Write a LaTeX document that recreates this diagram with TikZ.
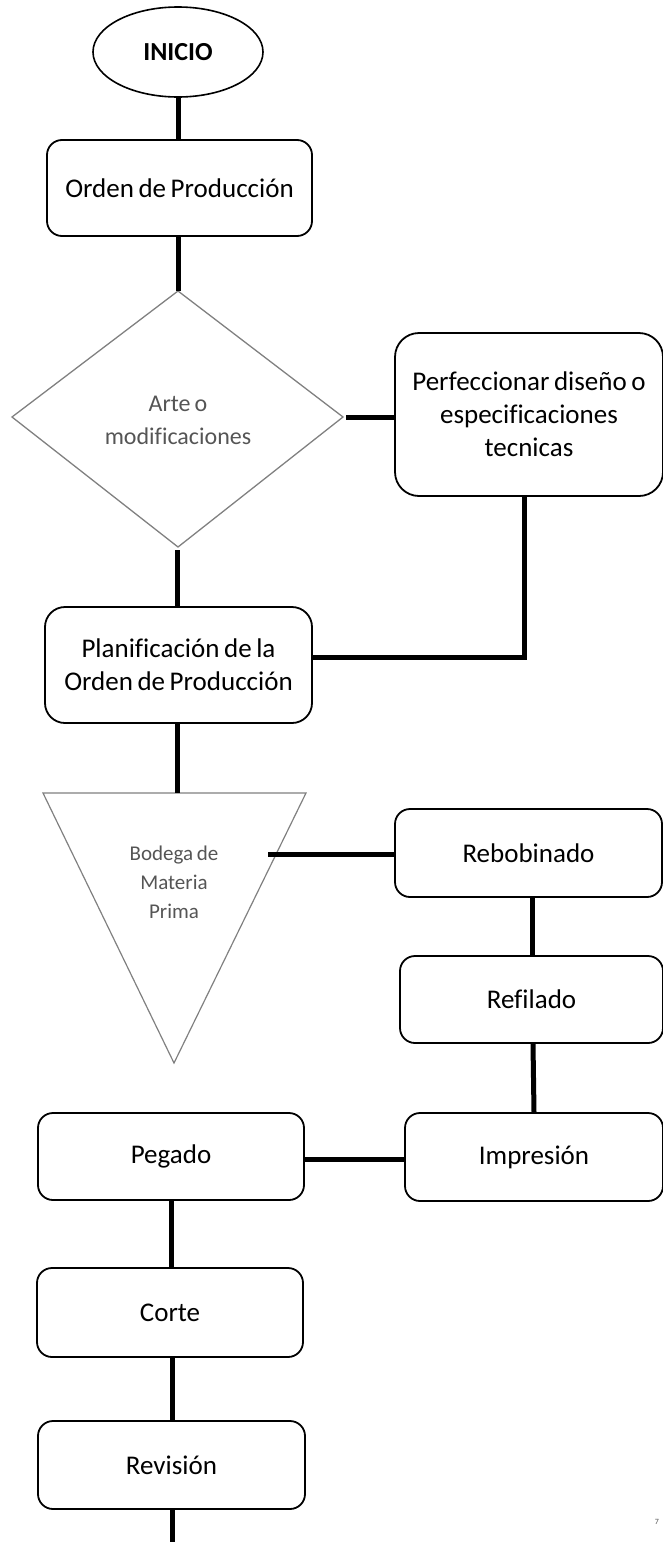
\documentclass[tikz,border=0pt]{standalone}
\usepackage{fontspec}
\setmainfont{Carlito}[Ligatures=NoCommon, WordSpace=0.75]
\usetikzlibrary{shapes.geometric}
\definecolor{shapegray}{HTML}{808080}
\definecolor{labelgray}{HTML}{555555}
\begin{document}
\begin{tikzpicture}[x=1pt,y=-1pt,
  stepbox/.style={draw=black, line width=1.8pt, rounded corners=15pt, fill=white,
    align=center, inner sep=0pt, font=\fontsize{27}{33}\selectfont},
  link/.style={line width=5pt, line cap=butt},
]
\useasboundingbox (0,0) rectangle (663,1542);

% start terminal
\node[draw=black, line width=1.6pt, ellipse, minimum width=170pt, minimum height=90pt,
      inner sep=0pt, font=\fontsize{26}{32}\selectfont\bfseries] (inicio) at (178,52) {INICIO};

% process boxes
\node[stepbox, minimum width=265pt, minimum height=96pt] (orden) at (179.5,188) {Orden de Producción};
\node[stepbox, rounded corners=24pt, minimum width=268pt, minimum height=163pt] (perf) at (529,414.5)
  {Perfeccionar diseño o\\especificaciones\\tecnicas};
\node[stepbox, rounded corners=20pt, minimum width=267pt, minimum height=116pt] (plan) at (178.5,665)
  {Planificación de la\\Orden de Producción};
\node[stepbox, minimum width=267pt, minimum height=88pt] (reb) at (528.5,853) {Rebobinado};
\node[stepbox, minimum width=263pt, minimum height=87pt] (ref) at (531.5,999.5) {Refilado};
\node[stepbox, minimum width=258pt, minimum height=88pt] (imp) at (534,1157) {Impresión};
\node[stepbox, minimum width=266pt, minimum height=87pt] (peg) at (171,1156.5) {Pegado};
\node[stepbox, minimum width=266pt, minimum height=89pt] (cor) at (170,1312.5) {Corte};
\node[stepbox, minimum width=267pt, minimum height=88pt] (rev) at (171.5,1465) {Revisión};

% decision diamond
\coordinate (dtop) at (178,291);
\coordinate (dright) at (343,417);
\coordinate (dbottom) at (178,547);
\coordinate (dleft) at (12,417);
\draw[shapegray, line width=1.3pt, line join=miter] (dtop) -- (dright) -- (dbottom) -- (dleft) -- cycle;
\node[align=center, text=labelgray, font=\fontsize{24}{33}\selectfont] (arte) at (178,420)
  {Arte o\\modificaciones};

% storage triangle
\coordinate (tl) at (43,793);
\coordinate (tr) at (306,793);
\coordinate (tb) at (174,1063);
\draw[shapegray, line width=1.2pt, line join=miter] (tl) -- (tr) -- (tb) -- cycle;
\node[align=center, text=labelgray, font=\fontsize{21}{29}\selectfont] (bodega) at (174,882)
  {Bodega de\\Materia\\Prima};

% connectors
\coordinate (dout) at (346,417);
\coordinate (dlow) at (177,550);
\coordinate (bend) at (524,657);
\coordinate (ttop) at (177,793);
\coordinate (tout) at (268,854);
\coordinate (pegR) at (304,1159);
\coordinate (impL) at (405,1159);
\coordinate (tail) at (172,1542);

\draw[link] (inicio.south) -- (orden.north -| inicio.south);
\draw[link] (orden.south -| inicio.south) -- (dtop);
\draw[link] (dout) -- (dout -| perf.west);
\draw[link] (dlow) -- (dlow |- plan.north);
\draw[link] (bend |- perf.south) -- (bend) -- (bend -| plan.east);
\draw[link] (plan.south -| ttop) -- (ttop);
\draw[link] (tout) -- (tout -| reb.west);
\draw[link] ([xshift=3.5pt]reb.south) -- ([xshift=0.5pt]ref.north);
\draw[link] ([xshift=1.5pt]ref.south) -- (imp.north);
\draw[link] (pegR) -- (impL);
\draw[link] (peg.south) -- (peg.south |- cor.north);
\draw[link] ([xshift=2pt]cor.south) -- ([xshift=0.5pt]rev.north);
\draw[link] ([xshift=0.5pt]rev.south) -- (tail);

% page mark
\node[text=labelgray, font=\fontsize{8}{9}\selectfont, inner sep=0pt] (mark) at (657,1522) {7};
\end{tikzpicture}
\end{document}
